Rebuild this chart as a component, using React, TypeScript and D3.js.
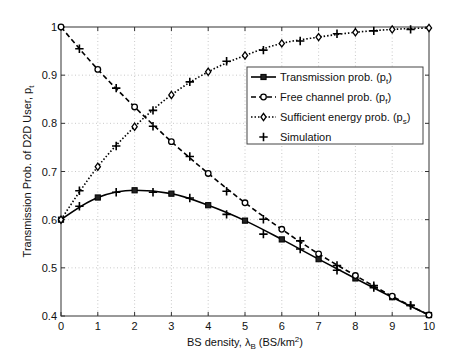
import React, { useEffect, useRef } from "react";
import * as d3 from "d3";

const lambdaB = [0, 1, 2, 3, 4, 5, 6, 7, 8, 9, 10];
const pTrans = [0.6, 0.646, 0.661, 0.654, 0.63, 0.598, 0.559, 0.518, 0.478, 0.439, 0.402];
const pFree = [1.0, 0.912, 0.834, 0.762, 0.696, 0.635, 0.58, 0.529, 0.484, 0.441, 0.402];
const pSuff = [0.6, 0.71, 0.793, 0.859, 0.907, 0.941, 0.966, 0.979, 0.989, 0.995, 0.998];

const simLambda = [0.5, 1.5, 2.5, 3.5, 4.5, 5.5, 6.5, 7.5, 8.5, 9.5];
const simTrans = [0.628, 0.657, 0.657, 0.645, 0.611, 0.57, 0.539, 0.495, 0.459, 0.422];
const simFree = [0.955, 0.873, 0.794, 0.731, 0.659, 0.601, 0.556, 0.505, 0.463, 0.422];
const simSuff = [0.66, 0.753, 0.827, 0.886, 0.929, 0.952, 0.971, 0.986, 0.992, 0.995];

const xTicks = [0, 1, 2, 3, 4, 5, 6, 7, 8, 9, 10];
const yTicks = [0.4, 0.5, 0.6, 0.7, 0.8, 0.9, 1];

const App = () => {
  const ref = useRef<SVGSVGElement>(null);

  useEffect(() => {
    draw();
  }, []);

  const draw = () => {
    const width = 474;
    const height = 356;
    const m = { left: 61, right: 429, top: 27, bottom: 316 };
    const font = "'Liberation Sans', Arial, sans-serif";
    const axisCol = "#333";

    const svg = d3.select(ref.current).attr("width", width).attr("height", height);
    svg.selectAll("*").remove();
    svg.append("rect").attr("width", width).attr("height", height).attr("fill", "#fff");

    const x = d3.scaleLinear().domain([0, 10]).range([m.left, m.right]);
    const y = d3.scaleLinear().domain([0.4, 1]).range([m.bottom, m.top]);

    // grid
    const grid = svg.append("g").attr("stroke", "#bbb").attr("stroke-width", 0.8).attr("stroke-dasharray", "1,2.5");
    xTicks.slice(1, -1).forEach((t) => {
      grid.append("line").attr("x1", x(t)).attr("x2", x(t)).attr("y1", m.top).attr("y2", m.bottom);
    });
    yTicks.slice(1, -1).forEach((t) => {
      grid.append("line").attr("x1", m.left).attr("x2", m.right).attr("y1", y(t)).attr("y2", y(t));
    });

    // axes box
    svg.append("rect")
      .attr("x", m.left).attr("y", m.top)
      .attr("width", m.right - m.left).attr("height", m.bottom - m.top)
      .attr("fill", "none").attr("stroke", axisCol).attr("stroke-width", 1);

    const ticks = svg.append("g").attr("stroke", axisCol).attr("stroke-width", 1);
    xTicks.forEach((t) => {
      ticks.append("line").attr("x1", x(t)).attr("x2", x(t)).attr("y1", m.bottom).attr("y2", m.bottom - 4);
      ticks.append("line").attr("x1", x(t)).attr("x2", x(t)).attr("y1", m.top).attr("y2", m.top + 4);
    });
    yTicks.forEach((t) => {
      ticks.append("line").attr("x1", m.left).attr("x2", m.left + 4).attr("y1", y(t)).attr("y2", y(t));
      ticks.append("line").attr("x1", m.right).attr("x2", m.right - 4).attr("y1", y(t)).attr("y2", y(t));
    });

    const labels = svg.append("g").attr("font-family", font).attr("font-size", 11).attr("fill", "#111");
    xTicks.forEach((t) => {
      labels.append("text").attr("x", x(t)).attr("y", m.bottom + 14).attr("text-anchor", "middle").text(d3.format("")(t));
    });
    yTicks.forEach((t) => {
      labels.append("text").attr("x", m.left - 4).attr("y", y(t) + 4).attr("text-anchor", "end").text(t === 1 ? "1" : t.toFixed(1));
    });

    // x label
    const xl = labels.append("text").attr("x", 245).attr("y", 346).attr("text-anchor", "middle");
    xl.append("tspan").text("BS density, λ");
    xl.append("tspan").attr("font-size", 8).attr("dy", 3).text("B");
    xl.append("tspan").attr("dy", -3).text(" (BS/km");
    xl.append("tspan").attr("font-size", 8).attr("dy", -4).text("2");
    xl.append("tspan").attr("dy", 4).text(")");

    // y label
    const yl = labels.append("text")
      .attr("transform", `translate(31,${(m.top + m.bottom) / 2}) rotate(-90)`)
      .attr("text-anchor", "middle");
    yl.append("tspan").text("Transmission Prob. of D2D User, p");
    yl.append("tspan").attr("font-size", 8).attr("dy", 3).text("t");

    const line = d3.line<number>()
      .x((d, i) => x(lambdaB[i]))
      .y((d) => y(d))
      .curve(d3.curveMonotoneX);

    const series = [
      { vals: pTrans, dash: null, marker: "square" },
      { vals: pFree, dash: "5,3", marker: "circle" },
      { vals: pSuff, dash: "1.5,2", marker: "diamond" },
    ];

    const drawMarker = (g: any, type: string, cx: number, cy: number) => {
      if (type === "square") {
        g.append("rect").attr("x", cx - 2.6).attr("y", cy - 2.6).attr("width", 5.2).attr("height", 5.2)
          .attr("fill", "#222").attr("stroke", "#000").attr("stroke-width", 1);
      } else if (type === "circle") {
        g.append("circle").attr("cx", cx).attr("cy", cy).attr("r", 2.8)
          .attr("fill", "#fff").attr("stroke", "#000").attr("stroke-width", 1.3);
      } else if (type === "diamond") {
        g.append("path").attr("d", `M${cx},${cy - 3.6}L${cx + 2.6},${cy}L${cx},${cy + 3.6}L${cx - 2.6},${cy}Z`)
          .attr("fill", "#fff").attr("stroke", "#000").attr("stroke-width", 1.3);
      } else {
        g.append("path").attr("d", `M${cx - 4.2},${cy}H${cx + 4.2}M${cx},${cy - 4.2}V${cy + 4.2}`)
          .attr("stroke", "#000").attr("stroke-width", 1.6);
      }
    };

    const plot = svg.append("g");
    series.forEach((s) => {
      plot.append("path").datum(s.vals).attr("d", line)
        .attr("fill", "none").attr("stroke", "#000").attr("stroke-width", 1.6)
        .attr("stroke-dasharray", s.dash);
    });
    series.forEach((s) => {
      s.vals.forEach((v, i) => drawMarker(plot, s.marker, x(lambdaB[i]), y(v)));
    });
    [simTrans, simFree, simSuff].forEach((sv) => {
      sv.forEach((v, i) => drawMarker(plot, "plus", x(simLambda[i]), y(v)));
    });

    // legend
    const lg = svg.append("g");
    lg.append("rect").attr("x", 247).attr("y", 67).attr("width", 176).attr("height", 77)
      .attr("fill", "#fff").attr("stroke", "#444").attr("stroke-width", 1);
    const legendItems = [
      { label: "Transmission prob. (p", sub: "t", dash: null, marker: "square" },
      { label: "Free channel prob. (p", sub: "f", dash: "5,3", marker: "circle" },
      { label: "Sufficient energy prob. (p", sub: "s", dash: "1.5,2", marker: "diamond" },
      { label: "Simulation", sub: "", dash: "none", marker: "plus" },
    ];
    legendItems.forEach((it, i) => {
      const cy = 77 + i * 20;
      if (it.dash !== "none") {
        lg.append("line").attr("x1", 251).attr("x2", 276).attr("y1", cy).attr("y2", cy)
          .attr("stroke", "#000").attr("stroke-width", 1.6).attr("stroke-dasharray", it.dash);
      }
      drawMarker(lg, it.marker, 263.5, cy);
      const t = lg.append("text").attr("x", 280).attr("y", cy + 4)
        .attr("font-family", font).attr("font-size", 11).attr("fill", "#111");
      t.append("tspan").text(it.label);
      if (it.sub) {
        t.append("tspan").attr("font-size", 8).attr("dy", 3).text(it.sub);
        t.append("tspan").attr("dy", -3).text(")");
      }
    });
  };

  return (
    <div style={{ position: "absolute", left: 0, top: 0 }}>
      <svg ref={ref} style={{ display: "block" }}></svg>
    </div>
  );
};

export default App;
